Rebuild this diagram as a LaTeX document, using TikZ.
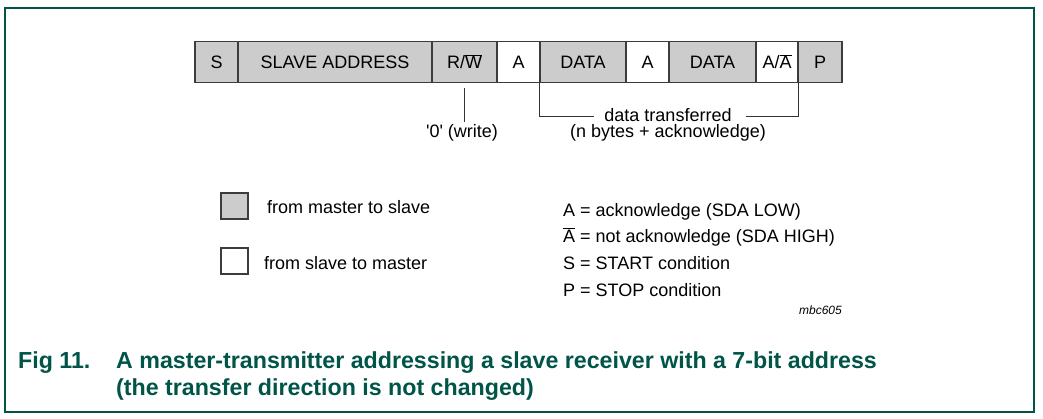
\documentclass[tikz,border=0pt]{standalone}
\usepackage{fontspec}
\setmainfont{Liberation Sans}
\newfontfamily\rawfont{Liberation Sans}
\definecolor{nxpgreen}{RGB}{0,84,72}
\definecolor{fieldgray}{RGB}{204,204,204}
\definecolor{edgegray}{RGB}{60,60,60}
\newcommand{\ovbar}[1]{$\overline{\hbox{#1}}$}
\tikzset{
  body/.style={font=\fontsize{18}{21}\selectfont},
  field/.style={draw=edgegray, line width=1.3pt, minimum height=41pt, inner sep=0pt,
    text height=13pt, text depth=0pt, body},
  mfield/.style={field, fill=fieldgray},
  sfield/.style={field, fill=white},
  txt/.style={inner sep=0pt, body},
  thin/.style={draw=black!80, line width=0.8pt},
  caption/.style={inner sep=0pt, text=nxpgreen, font=\fontsize{23.2}{27}\selectfont\bfseries},
  legbox/.style={draw=edgegray, line width=1.3pt, minimum width=27pt, minimum height=26pt, inner sep=0pt}
}
\begin{document}
\begin{tikzpicture}[x=1pt,y=-1pt]
\useasboundingbox (0,0) rectangle (1043,418);
\draw[nxpgreen, line width=1.6pt] (5,8) rectangle (1034,412);

% frame fields
\node[mfield, minimum width=43pt]  (s)   at (216.5,62) {S};
\node[mfield, minimum width=194pt] (sa)  at (335,62)   {SLAVE ADDRESS};
\node[mfield, minimum width=65pt]  (rw)  at (464.5,62) {R/\ovbar{W}};
\node[sfield, minimum width=43pt]  (a1)  at (518.5,62) {A};
\node[mfield, minimum width=86pt]  (d1)  at (583,62)   {DATA};
\node[sfield, minimum width=43pt]  (a2)  at (647.5,62) {A};
\node[mfield, minimum width=87pt]  (d2)  at (712.5,62) {DATA};
\node[sfield, minimum width=42pt]  (aa)  at (777,62)   {A/\ovbar{A}};
\node[mfield, minimum width=44pt]  (p)   at (820,62)   {P};

% R/W annotation
\node[txt, anchor=base] (wr) at (462,137) {\rawfont '0' (write)};
\draw[thin] (rw.south) ++(0,5) coordinate (rwt) -- (rwt |- 0,122) coordinate (rwb);

% data transferred bracket
\node[txt, anchor=base] (dt) at (668,121) {data transferred};
\node[txt, anchor=base] (nb) at (668,137) {(n bytes + acknowledge)};
\coordinate (bl) at ([yshift=6pt]d1.south west);
\coordinate (br) at ([yshift=6pt]aa.south east);
\draw[thin] (bl) -- (bl |- 0,116) -- ([xshift=-10pt]dt.west |- 0,116);
\draw[thin] ([xshift=14pt]dt.east |- 0,116) -- (br |- 0,116) -- (br);

% legend left
\node[legbox, fill=fieldgray] (lg1) at (234.5,206) {};
\node[txt, anchor=base west] (lt1) at (267,213) {from master to slave};
\node[legbox, fill=white] (lg2) at (234.5,261) {};
\node[txt, anchor=base west] (lt2) at (264,269) {from slave to master};

% legend right
\node[txt, anchor=base west] (k1) at (563,216) {A = acknowledge (SDA LOW)};
\node[txt, anchor=base west] (k2) at (563,242) {\ovbar{A} = not acknowledge (SDA HIGH)};
\node[txt, anchor=base west] (k3) at (563,269) {S = START condition};
\node[txt, anchor=base west] (k4) at (563,296) {P = STOP condition};
\node[inner sep=0pt, anchor=base east, font=\fontsize{12}{14}\selectfont\itshape] (id) at (842,314) {mbc605};

% caption
\node[caption, anchor=base west] (c0) at (18,368) {Fig 11.};
\node[caption, anchor=base west] (c1) at (116,368) {A master-transmitter addressing a slave receiver with a 7-bit address};
\node[caption, anchor=base west] (c2) at (116,395) {(the transfer direction is not changed)};
\end{tikzpicture}
\end{document}
